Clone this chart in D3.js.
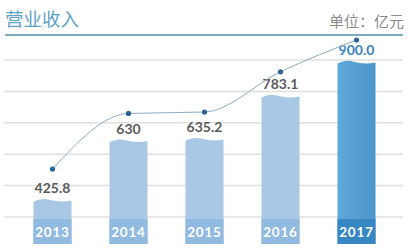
<!DOCTYPE html>
<html>
<head>
<meta charset="utf-8">
<script src="https://cdn.jsdelivr.net/npm/d3@7"></script>
<style>
  html, body { margin: 0; padding: 0; background: #fff; }
  svg { display: block; }
</style>
</head>
<body>
<svg id="chart" width="408" height="251"></svg>
<script>
// 营业收入 chart
const years = ["2013", "2014", "2015", "2016", "2017"];
const revenue = [425.8, 630, 635.2, 783.1, 900.0];
const valueLabels = ["425.8", "630", "635.2", "783.1", "900.0"];
const gridSteps = [0, 1, 2, 3, 4, 5];

const svg = d3.select("#chart");

const x = d3.scaleBand().domain(years).range([14.5, 394.5]).paddingInner(0.5).paddingOuter(0.25);
const yBar = d3.scaleLinear().domain([275, 900]).range([244, 62]);
const yLine = d3.scaleLinear().domain([275, 900]).range([210, 40]);
const yGrid = d3.scaleLinear().domain([0, 5]).range([217, 60]);

const data = years.map((y, i) => ({ year: y, value: revenue[i], label: valueLabels[i], last: i === years.length - 1 }));

// gradient for the highlighted bar
const defs = svg.append("defs");
const grad = defs.append("linearGradient").attr("id", "hl").attr("x1", 0).attr("x2", 1).attr("y1", 0).attr("y2", 0);
grad.append("stop").attr("offset", "0%").attr("stop-color", "#5ea8da");
grad.append("stop").attr("offset", "100%").attr("stop-color", "#4d96cb");

// header
svg.append("text").attr("x", 5).attr("y", 26)
    .attr("font-family", "'Noto Sans CJK SC', sans-serif").attr("font-size", 18.5)
    .attr("fill", "#5ea3c6").text("营业收入");
svg.append("text").attr("x", 404).attr("y", 27).attr("text-anchor", "end")
    .attr("font-family", "'Noto Sans CJK SC', sans-serif").attr("font-size", 15)
    .attr("fill", "#8a8a8a").text("单位：亿元");
svg.append("line").attr("x1", 5).attr("x2", 403).attr("y1", 35).attr("y2", 35)
    .attr("stroke", "#7aaabd").attr("stroke-width", 2);

// grid lines
svg.append("g").selectAll("line").data(gridSteps).enter().append("line")
    .attr("x1", 4).attr("x2", 403)
    .attr("y1", d => yGrid(d)).attr("y2", d => yGrid(d))
    .attr("stroke", "#e0e0e0").attr("stroke-width", 1.5);

// bars with wavy top
function barPath(d) {
    const x0 = x(d.year), w = x.bandwidth(), x1 = x0 + w;
    const t = yBar(d.value), b = 244;
    return `M${x0},${b} L${x0},${t + 1.5}
        Q${x0 + w * 0.22},${t - 3} ${x0 + w * 0.45},${t}
        Q${x0 + w * 0.7},${t + 2.5} ${x1},${t + 0.5} L${x1},${b} Z`;
}

svg.append("g").selectAll("path").data(data).enter().append("path")
    .attr("d", barPath)
    .attr("fill", d => d.last ? "url(#hl)" : "#a8c8e5");

// year boxes
svg.append("g").selectAll("rect").data(data).enter().append("rect")
    .attr("x", d => x(d.year)).attr("width", x.bandwidth())
    .attr("y", 219).attr("height", 25)
    .attr("fill", d => d.last ? "#3787c2" : "#90badf");

svg.append("g").selectAll("text").data(data).enter().append("text")
    .attr("x", d => x(d.year) + x.bandwidth() / 2).attr("y", 237)
    .attr("text-anchor", "middle")
    .attr("font-family", "Lato, sans-serif").attr("font-weight", "bold").attr("font-size", 13.5)
    .attr("letter-spacing", 0.8)
    .attr("fill", "#fff").text(d => d.year);

// value labels
svg.append("g").selectAll("text").data(data).enter().append("text")
    .attr("x", d => x(d.year) + x.bandwidth() / 2).attr("y", d => yBar(d.value) - 7)
    .attr("text-anchor", "middle")
    .attr("font-family", "Lato, sans-serif").attr("font-weight", "bold").attr("font-size", 14)
    .attr("fill", d => d.last ? "#3a85bf" : "#5b5b5b").text(d => d.label);

// trend line
const line = d3.line()
    .x(d => x(d.year) + x.bandwidth() / 2)
    .y(d => yLine(d.value))
    .curve(d3.curveMonotoneX);

svg.append("path").datum(data).attr("d", line)
    .attr("fill", "none").attr("stroke", "#8eabc4").attr("stroke-width", 1);

svg.append("g").selectAll("circle").data(data).enter().append("circle")
    .attr("cx", d => x(d.year) + x.bandwidth() / 2).attr("cy", d => yLine(d.value))
    .attr("r", 2.6).attr("fill", "#2b6497");
</script>
</body>
</html>
